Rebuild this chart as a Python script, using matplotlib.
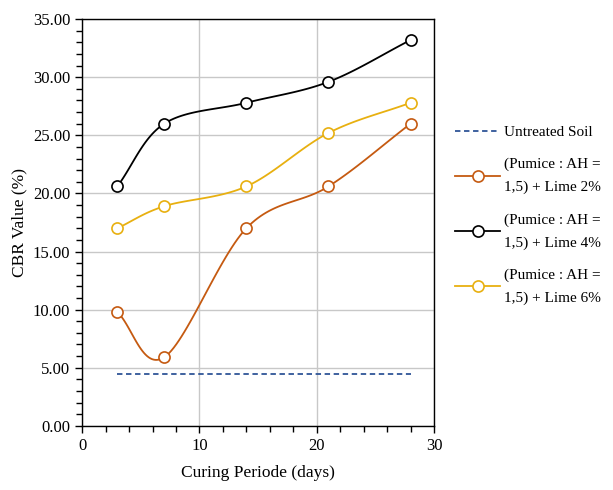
import numpy as np
import matplotlib.pyplot as plt
from matplotlib.ticker import MultipleLocator, FormatStrFormatter

plt.rcParams['font.family'] = ['Liberation Serif', 'DejaVu Serif']

# data
days = [3, 7, 14, 21, 28]
lime2 = [9.8, 5.9, 17.0, 20.6, 26.0]
lime4 = [20.6, 26.0, 27.8, 29.6, 33.2]
lime6 = [17.0, 18.9, 20.6, 25.2, 27.8]
untreated_x = [3, 28]
untreated = [4.5, 4.5]

labels = ['Untreated Soil',
          '(Pumice : AH =\n1,5) + Lime 2%',
          '(Pumice : AH =\n1,5) + Lime 4%',
          '(Pumice : AH =\n1,5) + Lime 6%']


def smooth(x, y, n=30):
    # Excel-like smoothed line (Catmull-Rom through the points)
    x = np.asarray(x, float)
    y = np.asarray(y, float)
    px = np.concatenate([[2 * x[0] - x[1]], x, [2 * x[-1] - x[-2]]])
    py = np.concatenate([[2 * y[0] - y[1]], y, [2 * y[-1] - y[-2]]])
    xs, ys = [], []
    t = np.linspace(0, 1, n)
    for i in range(1, len(px) - 2):
        for p, out in ((px, xs), (py, ys)):
            p0, p1, p2, p3 = p[i - 1], p[i], p[i + 1], p[i + 2]
            out.extend(0.5 * (2 * p1 + (-p0 + p2) * t
                              + (2 * p0 - 5 * p1 + 4 * p2 - p3) * t ** 2
                              + (-p0 + 3 * p1 - 3 * p2 + p3) * t ** 3))
    return xs, ys


fig = plt.figure(figsize=(6.13, 4.9), dpi=100)
ax = fig.add_axes([0.134, 0.131, 0.574, 0.830])

h0, = ax.plot(untreated_x, untreated, '--', color='#2F5597', lw=1.3, dashes=(3, 2))

handles = [h0]
for vals, col in [(lime2, '#C55A11'), (lime4, '#000000'), (lime6, '#E8B010')]:
    sx, sy = smooth(days, vals)
    ax.plot(sx, sy, '-', color=col, lw=1.3)
    ax.plot(days, vals, 'o', ms=8, mfc='white', mec=col, mew=1.2)
    h, = ax.plot([], [], '-o', color=col, lw=1.3, ms=8, mfc='white', mec=col, mew=1.2)
    handles.append(h)

ax.set_xlim(0, 30)
ax.set_ylim(0, 35)
ax.xaxis.set_major_locator(MultipleLocator(10))
ax.xaxis.set_minor_locator(MultipleLocator(2))
ax.yaxis.set_major_locator(MultipleLocator(5))
ax.yaxis.set_minor_locator(MultipleLocator(1))
ax.yaxis.set_major_formatter(FormatStrFormatter('%.2f'))
ax.grid(True, which='major', color='#C8C8C8', lw=1)
ax.set_axisbelow(True)
ax.tick_params(which='both', direction='out', labelsize=12, width=1, color='black')
ax.tick_params(which='major', length=5)
ax.tick_params(which='minor', length=4)
for s in ax.spines.values():
    s.set_color('black')
    s.set_linewidth(1)

ax.set_xlabel('Curing Periode (days)', fontsize=12.5, labelpad=8)
ax.set_ylabel('CBR Value (%)', fontsize=12.5)

leg = fig.legend(handles, labels, loc='upper left', bbox_to_anchor=(0.733, 0.757),
                 frameon=False, fontsize=11, handlelength=2.9, labelspacing=1.25,
                 handletextpad=0.3, borderaxespad=0)
for t in leg.get_texts():
    t.set_linespacing(1.9)

fig.savefig('out.png', dpi=100)
